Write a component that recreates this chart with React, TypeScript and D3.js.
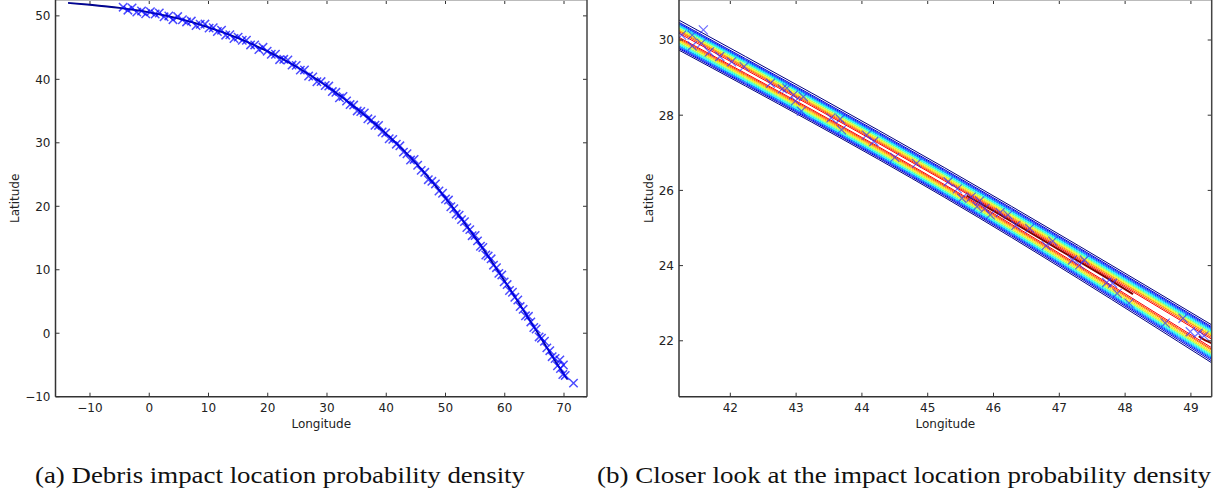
import React from 'react';
import * as d3 from 'd3';

// ---------- Data ----------
// Panel (a): mean impact track
const trackLon = [-13.7, -10, -5, 0, 5, 10, 15, 20, 25, 30, 35, 40, 45, 50, 55, 60, 65, 70, 70.6];
const trackLat = [52.05, 51.75, 51.25, 50.55, 49.55, 48.2, 46.5, 44.4, 41.9, 38.9, 35.4, 31.4, 26.8, 21.3, 15.1, 8.2, 0.9, -6.5, -7.3];

// Panel (a): sampled impact points (x markers)
const leftMarkerLon = [
  -4.4, -3.6, -2.9, -2.1, -1.3, -0.6, 0.2, 1.0, 1.7, 2.5, 3.3, 4.0, 4.8, 5.6, 6.3, 7.1, 7.9, 8.6, 9.4,
  10.1, 10.8, 11.5, 12.2, 12.9, 13.6, 14.3, 15.0, 15.7, 16.4, 17.1, 17.8, 18.5, 19.2, 19.9, 20.6, 21.3,
  22.0, 22.7, 23.4, 24.1, 24.8, 25.5, 26.2, 26.9, 27.6, 28.3, 29.0, 29.7,
  30.3, 30.9, 31.5, 32.1, 32.7, 33.3, 33.9, 34.5, 35.1, 35.7, 36.3, 36.9, 37.5, 38.1, 38.7, 39.3, 39.9,
  40.5, 41.1, 41.7, 42.3, 42.9, 43.5, 44.1, 44.7, 45.3, 45.9, 46.5, 47.1, 47.7, 48.3, 48.9, 49.5,
  50.0, 50.5, 50.9, 51.4, 51.8, 52.3, 52.7, 53.2, 53.6, 54.1, 54.5, 55.0, 55.4, 55.9, 56.3, 56.8, 57.2,
  57.7, 58.1, 58.6, 59.0, 59.5, 59.9, 60.4, 60.8, 61.3, 61.7, 62.2, 62.6, 63.1, 63.5, 64.0, 64.4, 64.9,
  65.3, 65.8, 66.2, 66.7, 67.1, 67.6, 68.0, 68.5, 68.9, 69.4, 69.8, 70.2, 69.3, 69.9, 71.6,
];
const leftMarkerLat = [
  51.37, 50.9, 51.26, 50.59, 50.78, 50.33, 50.66, 50.3, 50.46, 49.85, 49.99, 49.4, 49.89, 49.39, 49.05, 49.18, 48.47, 48.68, 48.71,
  48.07, 48.13, 47.54, 47.75, 46.96, 47.03, 46.44, 46.65, 46.16, 46.16, 45.42, 45.42, 44.68, 45.04, 44.44, 43.95, 43.95,
  43.1, 43.15, 43.05, 42.25, 42.2, 41.45, 41.48, 40.51, 40.39, 39.62, 39.65, 39.03,
  38.94, 38.07, 37.95, 37.08, 37.31, 36.59, 36.02, 35.95, 35.02, 34.94, 34.71, 33.78, 33.6, 32.77, 32.74, 31.71, 31.53,
  30.64, 30.54, 29.79, 29.53, 28.53, 28.28, 27.28, 27.38, 26.47, 25.66, 25.35, 24.19, 23.93, 23.52, 22.41, 22.05,
  21.15, 20.98, 19.93, 19.61, 18.77, 18.6, 17.9, 17.58, 16.64, 16.32, 15.37, 15.4, 14.55, 13.71, 13.51, 12.32, 12.16,
  11.72, 10.72, 10.33, 9.43, 9.19, 8.09, 7.67, 6.73, 6.45, 5.67, 5.24, 4.2, 3.77, 2.74, 2.66, 1.78, 0.9,
  0.66, -0.58, -0.78, -1.27, -2.31, -2.75, -3.69, -3.98, -5.12, -5.56, -6.5, -6.65, -4.2, -5.0, -7.86,
];

// Panel (b): ridge of the density band and contour offsets (lat units)
const ridgeLon = [41.22, 45.26, 49.32];
const ridgeLat = [30.12, 26.2, 21.93];
const upperOffsets = [
  [0.41, 0.40, 0.49], [0.35, 0.35, 0.44], [0.32, 0.32, 0.41], [0.30, 0.29, 0.38],
  [0.27, 0.27, 0.35], [0.25, 0.24, 0.32], [0.23, 0.22, 0.29], [0.20, 0.19, 0.27],
  [0.18, 0.17, 0.24], [0.15, 0.14, 0.21], [0.13, 0.11, 0.19], [0.10, 0.08, 0.15],
  [0.06, 0.05, 0.11],
];
const lowerOffsets = [
  [0.39, 0.39, 0.52], [0.35, 0.35, 0.47], [0.32, 0.32, 0.43], [0.29, 0.29, 0.40],
  [0.27, 0.27, 0.37], [0.24, 0.24, 0.34], [0.21, 0.22, 0.31], [0.19, 0.19, 0.28],
  [0.16, 0.17, 0.26], [0.14, 0.14, 0.23], [0.11, 0.11, 0.19], [0.08, 0.08, 0.16],
  [0.05, 0.05, 0.12],
];
// highest contour (dark red) pieces
const peakLon = [45.59, 46.2, 47.0, 47.6, 48.12];
const peakLat = [25.86, 25.25, 24.42, 23.8, 23.24];
const peak2Lon = [49.12, 49.2, 49.32];
const peak2Lat = [22.12, 22.03, 21.93];

// Panel (b): impact points
const rightMarkerLon = [
  41.26, 41.42, 41.59, 41.42, 41.56, 41.68, 41.84, 42.02, 42.21, 42.61, 42.79, 42.86, 42.96, 43.11, 42.99,
  43.08, 43.53, 43.67, 43.69, 44.07, 44.18, 44.5, 44.83, 45.31, 45.45, 45.52, 45.66, 45.79, 45.75, 45.87,
  45.95, 46.1, 46.22, 46.34, 46.55, 46.8, 46.9, 47.2, 47.31, 47.38, 47.72, 47.81, 47.88, 48.06, 48.61,
  48.88, 48.99, 49.11, 49.2,
];
const rightMarkerLat = [
  30.13, 30.13, 30.27, 29.84, 29.91, 29.68, 29.56, 29.42, 29.29, 28.85, 28.7, 28.72, 28.54, 28.49, 28.38,
  28.11, 27.93, 27.9, 27.61, 27.47, 27.3, 26.88, 26.72, 26.23, 26.04, 25.79, 25.82, 25.72, 25.57, 25.52,
  25.35, 25.41, 25.35, 25.07, 24.99, 24.53, 24.65, 24.15, 24.02, 24.15, 23.55, 23.53, 23.26, 23.0, 22.47,
  22.6, 22.24, 22.2, 22.13,
];

// Ticks
const leftXTicks = [-10, 0, 10, 20, 30, 40, 50, 60, 70];
const leftYTicks = [-10, 0, 10, 20, 30, 40, 50];
const rightXTicks = [42, 43, 44, 45, 46, 47, 48, 49];
const rightYTicks = [22, 24, 26, 28, 30];

const xLabelText = 'Longitude';
const yLabelText = 'Latitude';
const captionA = '(a) Debris impact location probability density';
const captionB = '(b) Closer look at the impact location probability density';

// ---------- Style helpers ----------
const FONT = 'DejaVu Sans, sans-serif';
const fmt = (v: number) => (v < 0 ? '\u2212' + Math.abs(v) : String(v));
function jet(t: number) {
  const c = (v: number) => Math.round(255 * Math.max(0, Math.min(1, v)));
  const r = c(1.5 - Math.abs(4 * t - 3));
  const g = c(1.5 - Math.abs(4 * t - 2));
  const b = c(1.5 - Math.abs(4 * t - 1));
  return `rgb(${r},${g},${b})`;
}

type Box = { x0: number; x1: number; y0: number; y1: number };

function Axes({ box, x, y, xTicks, yTicks, labelX }: any) {
  const b: Box = box;
  const tl = 4;
  return (
    <g fontFamily={FONT} fontSize={12} fill="#222">
      {xTicks.map((t: number) => (
        <g key={'xt' + t}>
          <line x1={x(t)} x2={x(t)} y1={b.y1} y2={b.y1 - tl} stroke="#333" strokeWidth={1} />
          <line x1={x(t)} x2={x(t)} y1={b.y0} y2={b.y0 + tl} stroke="#333" strokeWidth={1} />
          <text x={x(t)} y={b.y1 + 15} textAnchor="middle">{fmt(t)}</text>
        </g>
      ))}
      {yTicks.map((t: number) => (
        <g key={'yt' + t}>
          <line x1={b.x0} x2={b.x0 + tl} y1={y(t)} y2={y(t)} stroke="#333" strokeWidth={1} />
          <line x1={b.x1} x2={b.x1 - tl} y1={y(t)} y2={y(t)} stroke="#333" strokeWidth={1} />
          <text x={b.x0 - 5} y={y(t)} dy="0.36em" textAnchor="end">{fmt(t)}</text>
        </g>
      ))}
      <line x1={b.x0} x2={b.x1} y1={b.y0 + 0.5} y2={b.y0 + 0.5} stroke="#bbb" strokeWidth={1} />
      <line x1={b.x0} x2={b.x0} y1={b.y0} y2={b.y1} stroke="#333" strokeWidth={1.5} />
      <line x1={b.x1} x2={b.x1} y1={b.y0} y2={b.y1} stroke="#444" strokeWidth={1.5} />
      <line x1={b.x0} x2={b.x1} y1={b.y1} y2={b.y1} stroke="#333" strokeWidth={1.5} />
      <text x={(b.x0 + b.x1) / 2} y={b.y1 + 31} textAnchor="middle">{xLabelText}</text>
      <text transform={`translate(${labelX},${(b.y0 + b.y1) / 2}) rotate(-90)`} textAnchor="middle">{yLabelText}</text>
    </g>
  );
}

const markerPath = (s: number) => `M${-s},${-s}L${s},${s}M${-s},${s}L${s},${-s}`;

export default function App() {
  const L: Box = { x0: 55.5, x1: 587, y0: 0, y1: 396.7 };
  const R: Box = { x0: 679, x1: 1211.7, y0: 0, y1: 396.7 };
  const xL = d3.scaleLinear().domain([-15.82, 73.88]).range([L.x0, L.x1]);
  const yL = d3.scaleLinear().domain([-10, 52.5]).range([L.y1, L.y0]);
  const xR = d3.scaleLinear().domain([41.22, 49.316]).range([R.x0, R.x1]);
  const yR = d3.scaleLinear().domain([20.513, 31.064]).range([R.y1, R.y0]);

  const lineL = d3.line<number>().x((_, i) => xL(trackLon[i])).y((d) => yL(d)).curve(d3.curveMonotoneX);
  const trackPath = lineL(trackLat) || '';

  const lineR = (lons: number[]) =>
    d3.line<number>().x((_, i) => xR(lons[i])).y((d) => yR(d)).curve(d3.curveNatural);

  const nLev = upperOffsets.length;
  const contourPaths: { d: string; color: string }[] = [];
  for (let i = 0; i < nLev; i++) {
    const color = jet((0.88 * i) / (nLev - 1));
    const up = ridgeLat.map((r, k) => r + upperOffsets[i][k]);
    const lo = ridgeLat.map((r, k) => r - lowerOffsets[i][k]);
    contourPaths.push({ d: lineR(ridgeLon)(up) || '', color });
    contourPaths.push({ d: lineR(ridgeLon)(lo) || '', color });
  }
  const peakPath = lineR(peakLon)(peakLat) || '';
  const peak2Path = lineR(peak2Lon)(peak2Lat) || '';

  return (
    <svg width={1215} height={494} style={{ position: 'absolute', left: 0, top: 0, background: '#fff' }}>
      <defs>
        <clipPath id="clipL"><rect x={L.x0} y={L.y0} width={L.x1 - L.x0} height={L.y1 - L.y0} /></clipPath>
        <clipPath id="clipR"><rect x={R.x0} y={R.y0} width={R.x1 - R.x0} height={R.y1 - R.y0} /></clipPath>
      </defs>
      <rect x={0} y={0} width={1215} height={494} fill="#fff" />

      {/* Panel (a) */}
      <g clipPath="url(#clipL)">
        <path d={trackPath} fill="none" stroke="#000080" strokeWidth={1.8} />
        {leftMarkerLon.map((lon, i) => (
          <path key={i} d={markerPath(4.2)} transform={`translate(${xL(lon)},${yL(leftMarkerLat[i])})`}
            stroke="#0000ff" strokeWidth={1.5} opacity={0.7} fill="none" />
        ))}
        <path d={trackPath} fill="none" stroke="#0010c0" strokeWidth={0.8} opacity={0.5} />
      </g>
      <Axes box={L} x={xL} y={yL} xTicks={leftXTicks} yTicks={leftYTicks} labelX={18.5} />

      {/* Panel (b) */}
      <g clipPath="url(#clipR)">
        {contourPaths.map((c, i) => (
          <path key={i} d={c.d} fill="none" stroke={c.color} strokeWidth={1} />
        ))}
        <path d={peakPath} fill="none" stroke={jet(1)} strokeWidth={2} />
        <path d={peak2Path} fill="none" stroke={jet(1)} strokeWidth={2} />
        {rightMarkerLon.map((lon, i) => (
          <path key={i} d={markerPath(4.5)} transform={`translate(${xR(lon)},${yR(rightMarkerLat[i])})`}
            stroke="#3030ff" strokeWidth={1.2} opacity={0.7} fill="none" />
        ))}
      </g>
      <Axes box={R} x={xR} y={yR} xTicks={rightXTicks} yTicks={rightYTicks} labelX={652.5} />

      {/* Captions */}
      <g fontFamily="Liberation Serif, serif" fontSize={23} fill="#111">
        <text x={35} y={483} textLength={490} lengthAdjust="spacingAndGlyphs">{captionA}</text>
        <text x={597} y={483} textLength={614} lengthAdjust="spacingAndGlyphs">{captionB}</text>
      </g>
    </svg>
  );
}
